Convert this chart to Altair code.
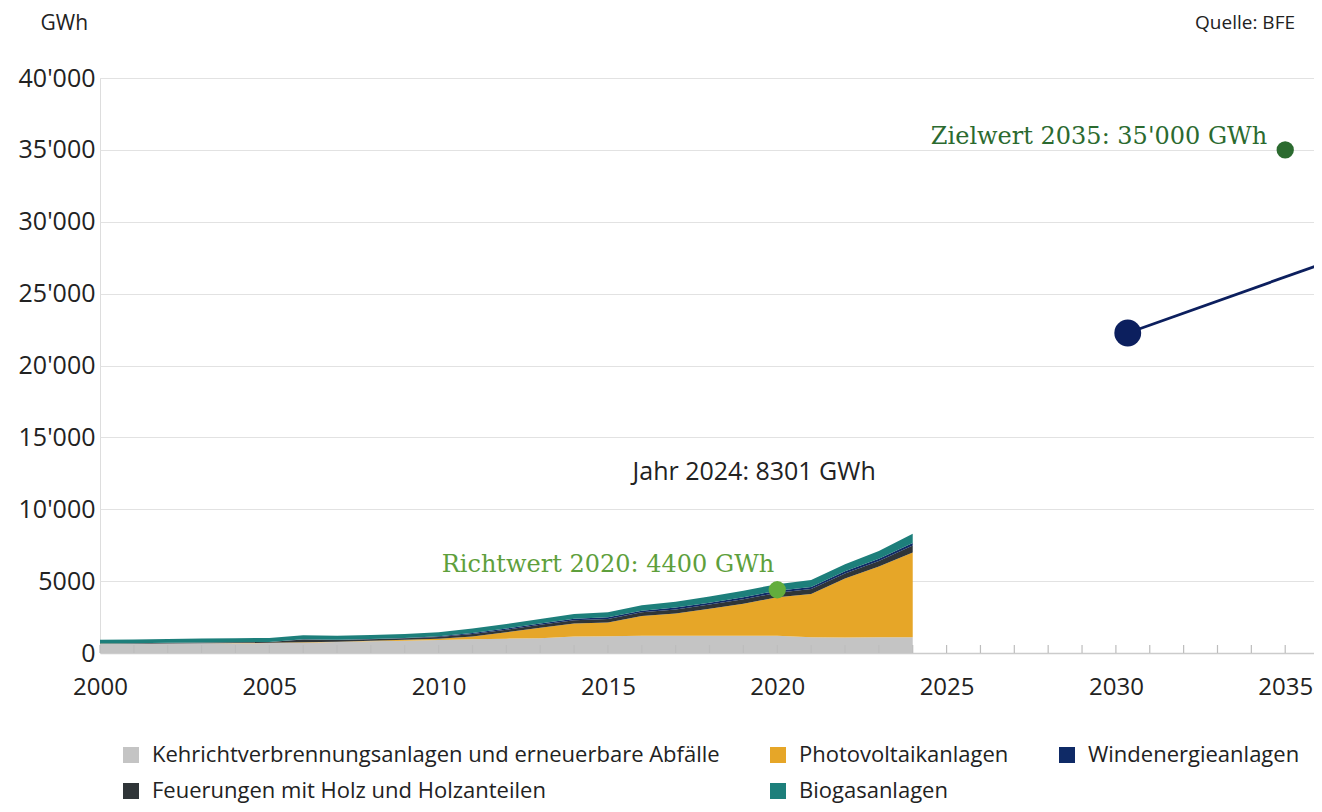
import altair as alt
import pandas as pd

# ---- data ----
years = list(range(2000, 2025))
kehricht = [625, 640, 655, 670, 680, 690, 720, 760, 820, 860, 900, 950, 1000, 1020, 1150, 1160, 1200, 1200, 1200, 1200, 1200, 1100, 1080, 1100, 1100]
photovoltaik = [10, 11, 13, 15, 17, 20, 22, 28, 37, 54, 100, 200, 440, 740, 910, 970, 1370, 1540, 1870, 2230, 2670, 3010, 4100, 4920, 5891]
holz = [30, 32, 40, 45, 50, 55, 200, 120, 100, 110, 120, 170, 180, 200, 220, 240, 260, 290, 300, 310, 320, 340, 350, 380, 480]
wind = [3, 3, 5, 5, 6, 8, 15, 16, 19, 23, 37, 70, 88, 90, 100, 110, 110, 130, 120, 145, 145, 145, 150, 160, 180]
biogas = [252, 254, 267, 280, 277, 272, 283, 276, 284, 273, 283, 310, 302, 310, 330, 350, 390, 400, 440, 445, 455, 475, 500, 540, 650]

series_names = [
    "Kehrichtverbrennungsanlagen und erneuerbare Abfälle",
    "Photovoltaikanlagen",
    "Feuerungen mit Holz und Holzanteilen",
    "Windenergieanlagen",
    "Biogasanlagen",
]
series_values = [kehricht, photovoltaik, holz, wind, biogas]

# legend is laid out column by column (2 rows, 3 columns)
legend_order = [
    "Kehrichtverbrennungsanlagen und erneuerbare Abfälle",
    "Feuerungen mit Holz und Holzanteilen",
    "Photovoltaikanlagen",
    "Biogasanlagen",
    "Windenergieanlagen",
]
legend_colors = ["#c4c4c4", "#2f3538", "#e6a628", "#1d7f7b", "#0f2a66"]

x_tick_labels = [2000, 2005, 2010, 2015, 2020, 2025, 2030, 2035]
y_tick_values = [0, 5000, 10000, 15000, 20000, 25000, 30000, 35000, 40000]
minor_tick_years = list(range(2000, 2036))

richtwert_year, richtwert_value = [2020], [4400]
zielwert_year, zielwert_value = [2035], [35000]
jahr_label_year, jahr_label_value = [2024], [12600]
wind_line_years = [2030.35, 2036.0]
wind_line_values = [22260, 27000]

# ---- tables ----
rows = []
for order_idx, (name, vals) in enumerate(zip(series_names, series_values)):
    for yr, v in zip(years, vals):
        rows.append({"year": yr, "value": v, "series": name, "ord": order_idx})
df_area = pd.DataFrame(rows)

df_ticks = pd.DataFrame({"year": minor_tick_years})
df_richt = pd.DataFrame({"year": richtwert_year, "value": richtwert_value,
                         "label": ["Richtwert 2020: 4400 GWh"]})
df_ziel = pd.DataFrame({"year": zielwert_year, "value": zielwert_value,
                        "label": ["Zielwert 2035: 35'000 GWh"]})
df_jahr = pd.DataFrame({"year": jahr_label_year, "value": jahr_label_value,
                        "label": ["Jahr 2024: 8301 GWh"]})
df_wind_line = pd.DataFrame({"year": wind_line_years, "value": wind_line_values})
df_wind_dot = df_wind_line.iloc[[0]]
df_source = pd.DataFrame({"label": ["Quelle: BFE"]})

W, H = 1214, 575
FONT = "Open Sans"
SERIF = "DejaVu Serif"

x_scale = alt.Scale(domain=[2000, 2035.85], nice=False, zero=False)
y_scale = alt.Scale(domain=[0, 40000], nice=False)

y_label_expr = "datum.value >= 10000 ? replace(format(datum.value, ','), ',', \"'\") : format(datum.value, 'd')"

area = alt.Chart(df_area).mark_area(clip=True, opacity=1, interpolate="linear").encode(
    x=alt.X("year:Q", scale=x_scale,
            axis=alt.Axis(values=x_tick_labels, format="d", title=None, grid=False,
                          ticks=False, labelFlush=False, labelOverlap=False,
                          labelFontSize=24, labelFont=FONT, labelColor="#222222",
                          labelPadding=22, domainColor="#cccccc", domainWidth=1.5)),
    y=alt.Y("value:Q", stack="zero", scale=y_scale,
            axis=alt.Axis(values=y_tick_values, labelExpr=y_label_expr,
                          title="GWh", titleAngle=0, titleAlign="left", titleBaseline="middle",
                          titleX=-60, titleY=-55, titleFontSize=21, titleFont=FONT,
                          titleFontWeight="normal", titleColor="#222222",
                          ticks=False, domain=False, grid=True, gridColor="#e2e2e2",
                          gridWidth=1.2, labelFontSize=25, labelFont=FONT,
                          labelColor="#222222", labelPadding=5)),
    color=alt.Color("series:N",
                    scale=alt.Scale(domain=legend_order, range=legend_colors),
                    legend=alt.Legend(title=None, orient="none", legendX=20, legendY=666,
                                      columns=3, symbolType="square", symbolSize=256,
                                      symbolStrokeWidth=0, symbolOpacity=1,
                                      labelFontSize=22, labelFont=FONT, labelColor="#222222",
                                      labelOffset=10, labelLimit=900,
                                      columnPadding=47, rowPadding=14)),
    order=alt.Order("ord:Q"),
)

ticks = alt.Chart(df_ticks).mark_rule(color="#bdbdbd", strokeWidth=1.2).encode(
    x=alt.X("year:Q", scale=x_scale),
    y=alt.value(H),
    y2=alt.value(H - 8),
)

richt_dot = alt.Chart(df_richt).mark_circle(size=300, opacity=1, color="#63ad3d").encode(
    x=alt.X("year:Q", scale=x_scale), y=alt.Y("value:Q", scale=y_scale))
richt_text = alt.Chart(df_richt).mark_text(
    font=SERIF, fontSize=24, color="#5e9f3c", align="right", baseline="middle", dx=-3, dy=-25
).encode(x=alt.X("year:Q", scale=x_scale), y=alt.Y("value:Q", scale=y_scale), text="label:N")

ziel_dot = alt.Chart(df_ziel).mark_circle(size=300, opacity=1, color="#2b6a2f").encode(
    x=alt.X("year:Q", scale=x_scale), y=alt.Y("value:Q", scale=y_scale))
ziel_text = alt.Chart(df_ziel).mark_text(
    font=SERIF, fontSize=24, color="#2b6a2f", align="right", baseline="middle", dx=-18, dy=-13
).encode(x=alt.X("year:Q", scale=x_scale), y=alt.Y("value:Q", scale=y_scale), text="label:N")

jahr_text = alt.Chart(df_jahr).mark_text(
    font=FONT, fontSize=25, color="#222222", align="right", baseline="middle", dx=-37
).encode(x=alt.X("year:Q", scale=x_scale), y=alt.Y("value:Q", scale=y_scale), text="label:N")

wind_line = alt.Chart(df_wind_line).mark_line(color="#0c1f5e", strokeWidth=2.8, clip=True).encode(
    x=alt.X("year:Q", scale=x_scale), y=alt.Y("value:Q", scale=y_scale))
wind_dot = alt.Chart(df_wind_dot).mark_circle(size=720, opacity=1, color="#0c1f5e").encode(
    x=alt.X("year:Q", scale=x_scale), y=alt.Y("value:Q", scale=y_scale))

source = alt.Chart(df_source).mark_text(
    font=FONT, fontSize=19, color="#222222", align="right", baseline="middle"
).encode(x=alt.value(1195), y=alt.value(-55), text="label:N")

chart = alt.layer(
    area, ticks, wind_line, wind_dot, richt_dot, richt_text, ziel_dot, ziel_text, jahr_text, source
).properties(
    width=W, height=H,
    autosize=alt.AutoSizeParams(type="none"),
    padding={"left": 92, "top": 70, "right": 0, "bottom": 151},
).configure_view(stroke=None).configure(background="white")

chart.save("out.html", embed_options={"renderer": "svg", "actions": False})
